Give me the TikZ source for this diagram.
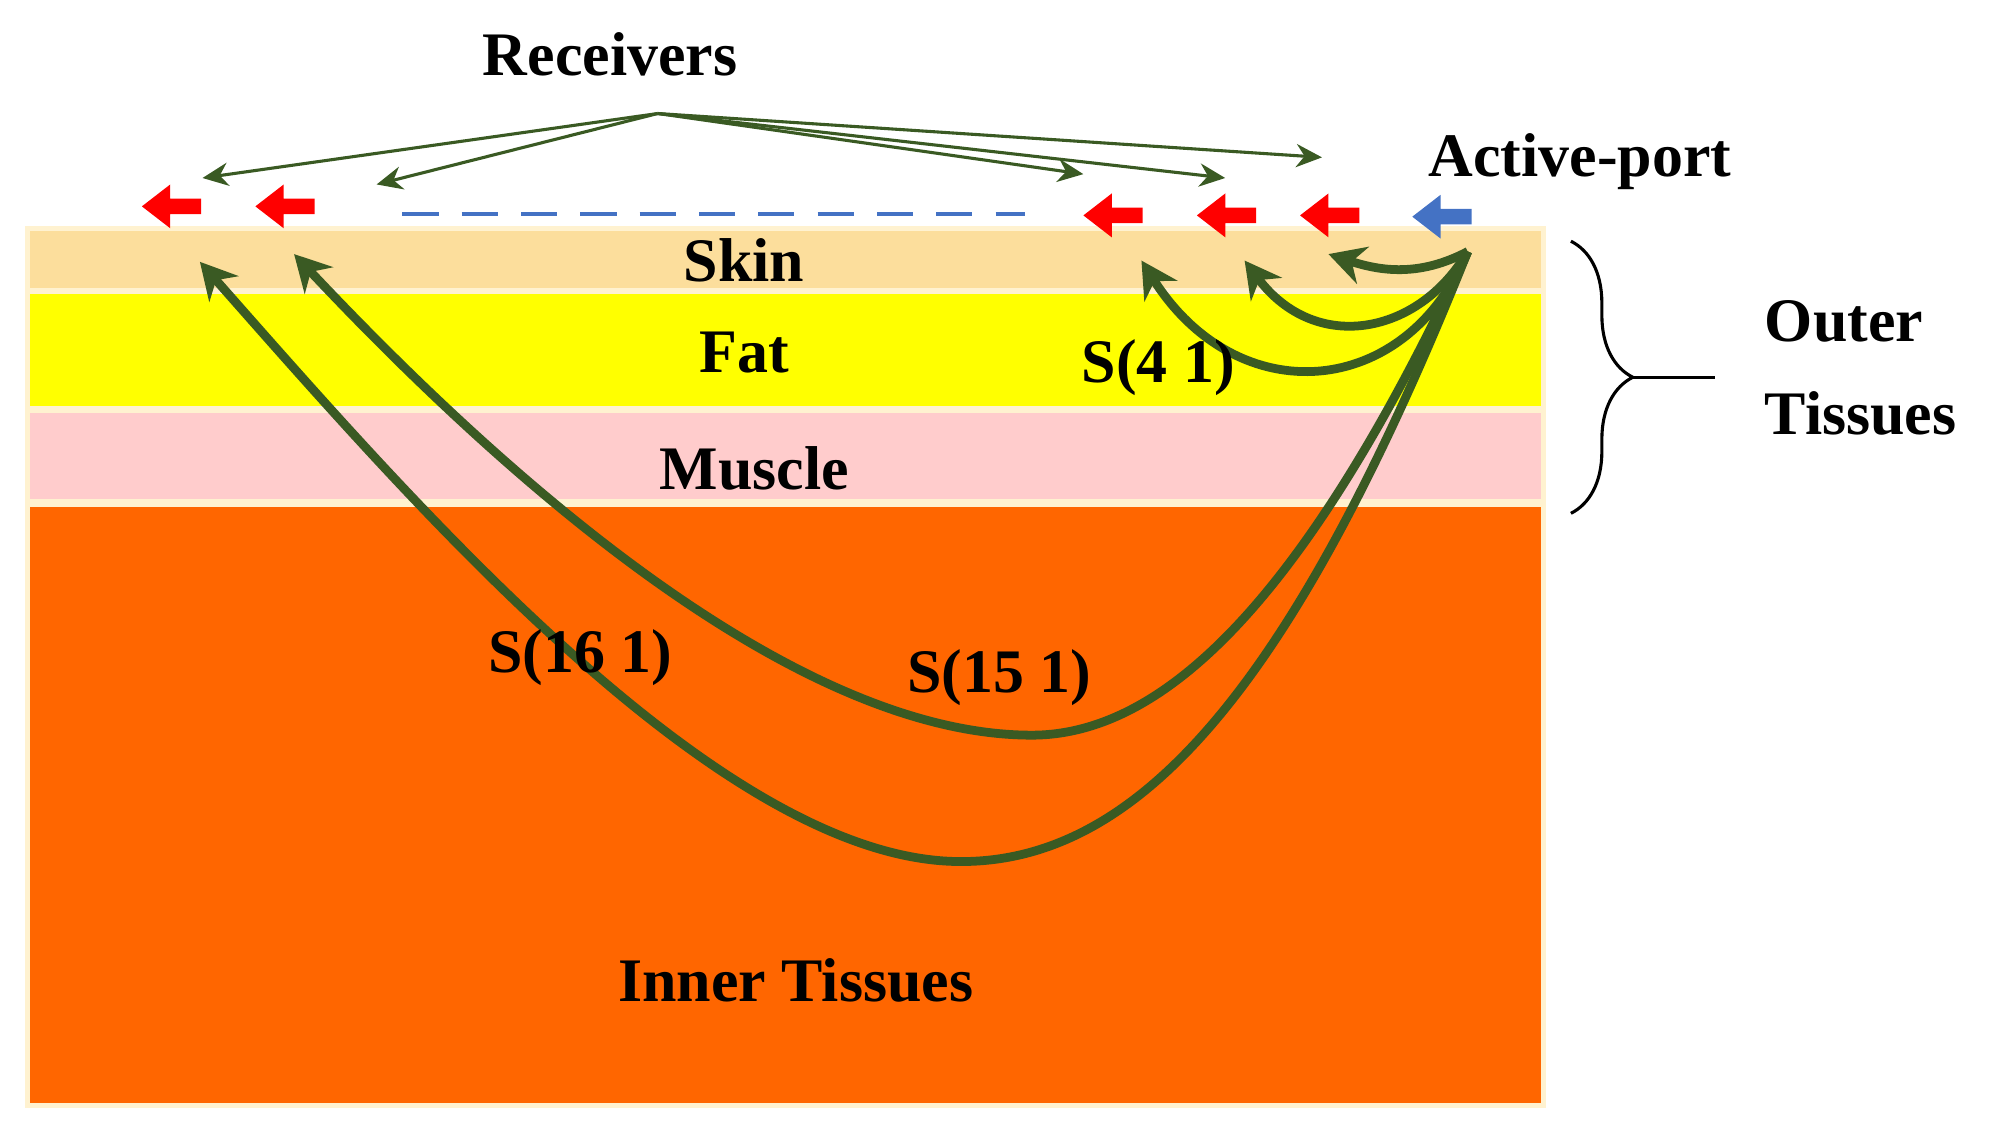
\documentclass[tikz,border=0pt]{standalone}
\usepackage{fontspec}
\setmainfont{Liberation Serif}
\usetikzlibrary{arrows.meta,decorations.pathreplacing}
\definecolor{skin}{HTML}{FCDE9C}
\definecolor{fat}{HTML}{FFFF00}
\definecolor{muscle}{HTML}{FFCCCC}
\definecolor{inner}{HTML}{FF6600}
\definecolor{cream}{HTML}{FFF2D0}
\definecolor{dg}{HTML}{3A5A23}
\definecolor{pblue}{HTML}{4472C4}
\tikzset{
 lbl/.style={font=\fontsize{24}{28}\selectfont\bfseries, inner sep=0pt},
 thin arr/.style={draw=dg, line width=1.2pt, -{Stealth[length=10pt,width=9pt]}},
 thick arr/.style={draw=dg, line width=3.4pt, -{Stealth[length=14pt,width=15pt]}},
 port/.pic={\fill[#1] (0,0) -- (22,-17) -- (22,-6) -- (46,-6) -- (46,6) -- (22,6) -- (22,17) -- cycle;}
}
\begin{document}
\begin{tikzpicture}[x=0.5pt,y=-0.5pt]
\useasboundingbox (0,0) rectangle (1560,875);
\fill[cream] (19,175) rectangle (1199,859);
\fill[skin] (23,179) rectangle (1195,223);
\fill[fat] (23,228) rectangle (1195,315);
\fill[muscle] (23,320) rectangle (1195,387);
\fill[inner] (23,393) rectangle (1195,855);
\node[lbl] (skinl) at (577,202) {Skin};
\node[lbl] (fatl) at (577,273) {Fat};
\node[lbl] (musl) at (585,363) {Muscle};
\node[lbl] (innl) at (617,760) {Inner Tissues};
\node[lbl] (recv) at (473,42) {Receivers};
\node[lbl] (act) at (1225,125) {Active-port};
\node[lbl,align=left,anchor=west] (outer) at (1368,285) {Outer\\[8pt]Tissues};
% ports
\pic at (110,160) {port=red};
\pic at (198,160) {port=red};
\pic at (840,167) {port=red};
\pic at (928,167) {port=red};
\pic at (1008,167) {port=red};
\pic at (1095,168) {port=pblue};
\draw[pblue,line width=1.6pt,dash pattern=on 14pt off 9pt] (312,166) -- (795,166);
% receivers arrows
\coordinate (r0) at (510,88);
\draw[thin arr] (r0) -- (157,138);
\draw[thin arr] (r0) -- (292,143);
\draw[thin arr] (r0) -- (840,135);
\draw[thin arr] (r0) -- (950,138);
\draw[thin arr] (r0) -- (1025,122);
% brace
\draw[line width=1.2pt,decorate,decoration={brace,amplitude=24pt,aspect=0.5}] (1218,187) -- (1218,398);
\draw[line width=1.2pt] (1266,293) -- (1330,293);
% curves
\coordinate (src) at (1138,195);
\draw[thick arr] (src) .. controls (1100,215) and (1070,210) .. (1030,197);
\draw[thick arr] (src) .. controls (1100,260) and (1020,275) .. (965,202);
\draw[thick arr] (src) .. controls (1090,310) and (960,320) .. (885,202);
\draw[thick arr] (src) .. controls (1010,470) and (900,570) .. (800,570) .. controls (620,570) and (400,380) .. (228,197);
\draw[thick arr] (src) .. controls (1000,540) and (880,668) .. (745,668) .. controls (560,668) and (320,390) .. (155,203);
\node[lbl] (s41) at (898,285) {S(4 1)};
\node[lbl] (s151) at (775,525) {S(15 1)};
\node[lbl] (s161) at (450,510) {S(16 1)};
\end{tikzpicture}
\end{document}
